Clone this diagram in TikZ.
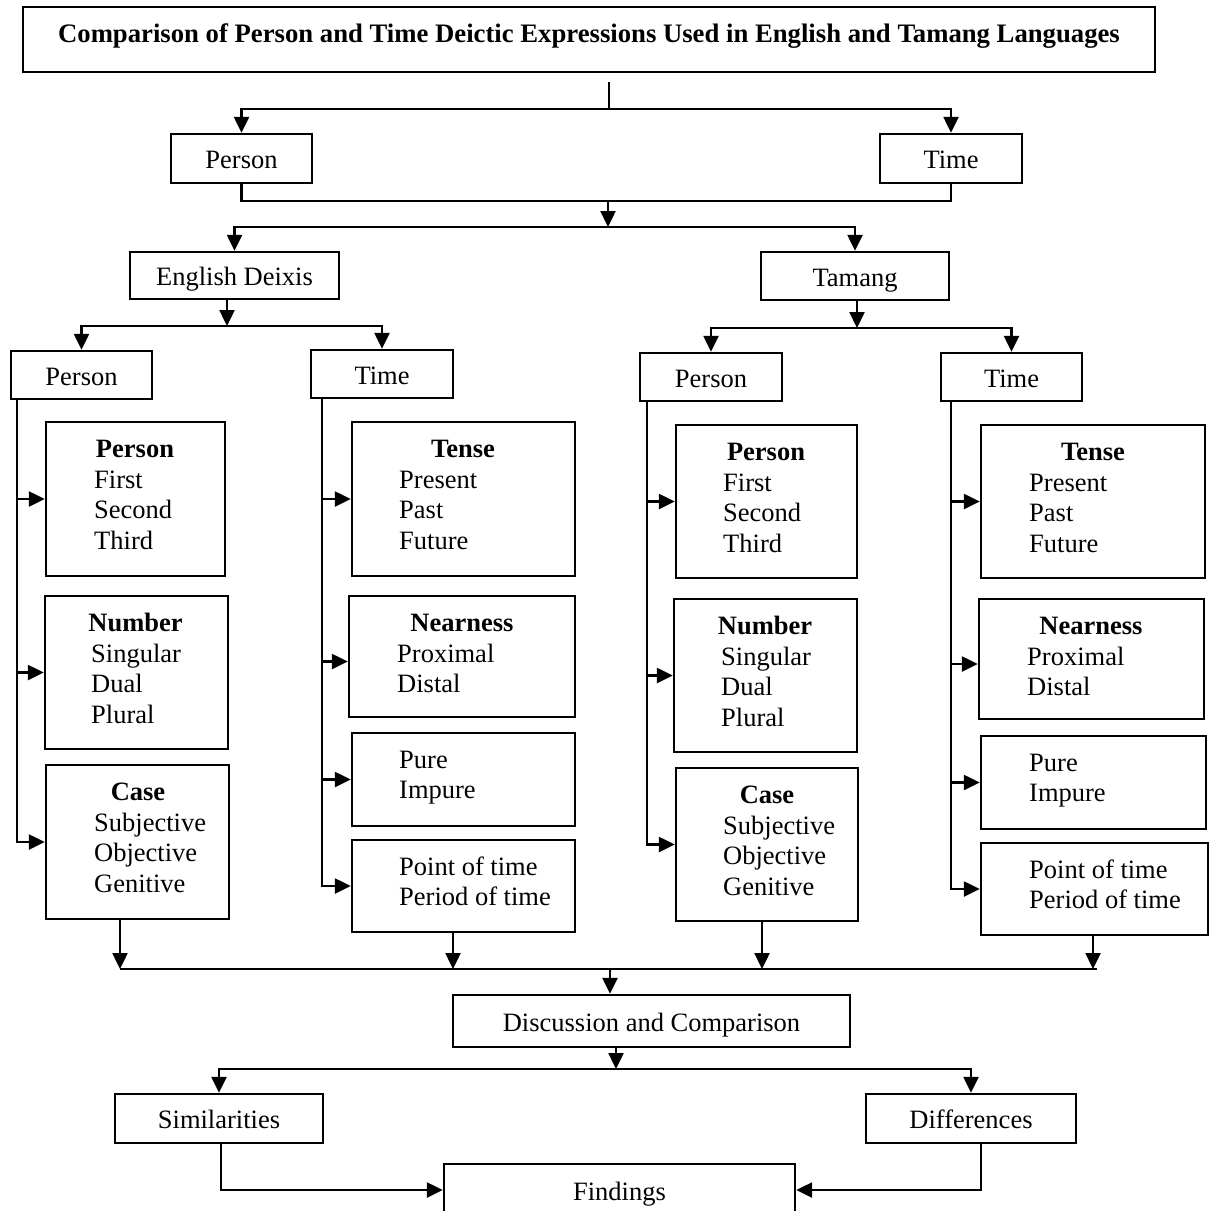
\documentclass[tikz,border=0pt]{standalone}
\usepackage{fontspec}
\setmainfont{Liberation Serif}
\usetikzlibrary{arrows.meta}
\newcommand\fs{\fontsize{26.5}{31}\selectfont}
\newcommand\bx[6]{\node[box, minimum width={#4-#2}, minimum height={#5-#3}] (#1) at ({(#2+#4)/2},{(#3+#5)/2}) {#6};}
\newcommand\hd[4]{\node[hdst] (#1) at (#2,#3) {#4};}
\newcommand\items[4]{\foreach \t [count=\i] in {#4} {\node[itst] (#1-\i) at (#2,{#3+30.5*(\i-1)}) {\t};}}
\begin{document}
\begin{tikzpicture}[x=1pt,y=-1pt,
  box/.style={draw, line width=2.4pt, inner sep=0pt, font=\fs, text height=20pt, text depth=0pt},
  hdst/.style={inner sep=0pt, anchor=base, font=\fs\bfseries},
  itst/.style={inner sep=0pt, anchor=base west, font=\fs},
  ln/.style={line width=2.4pt},
  arr/.style={line width=2.4pt, -{Triangle[length=16pt,width=15pt]}}]
\useasboundingbox (0,0) rectangle (1214,1210);
\fill[white] (0,0) rectangle (1214,1210);
% title
\bx{title}{23}{7}{1155}{72}{}
\node[inner sep=0pt, anchor=base, font=\fontsize{26.7}{30}\selectfont\bfseries] (ttl) at (589,42) {Comparison of Person and Time Deictic Expressions Used in English and Tamang Languages};
% level 1
\bx{per}{171}{134}{312}{183}{Person}
\bx{tim}{880}{134}{1022}{183}{Time}
\coordinate (t0) at (609,82);
\coordinate (t1) at (609,109);
\draw[ln] (t0) -- (t1);
\draw[arr] (t1) -| (per.north);
\draw[arr] (t1) -| (tim.north);
\coordinate (j2) at (608,201);
\coordinate (j3) at (608,227);
\draw[ln] (per.south) |- (j2) -| (tim.south);
\draw[arr] (j2) -- (j3);
% level 2
\bx{eng}{130}{252}{339}{299}{English Deixis}
\bx{tam}{761}{252}{949}{300}{Tamang}
\draw[arr] (j3) -| (eng.north);
\draw[arr] (j3) -| (tam.north);
\coordinate (j4) at (227,326);
\draw[arr] (eng.south -| j4) -- (j4);
\bx{p1}{11}{351}{152}{399}{Person}
\bx{m1}{311}{350}{453}{398}{Time}
\draw[arr] (j4) -| (p1.north);
\draw[arr] (j4) -| (m1.north);
\coordinate (j5) at (857,328);
\draw[arr] (tam.south -| j5) -- (j5);
\bx{p3}{640}{353}{782}{401}{Person}
\bx{m3}{941}{353}{1082}{401}{Time}
\draw[arr] (j5) -| (p3.north);
\draw[arr] (j5) -| (m3.north);
% column 1
\coordinate (v1) at (17,0);
\bx{a1}{46}{422}{225}{576}{}
\hd{a1h}{135}{457}{Person}
\items{a1}{94}{488}{First,Second,Third}
\bx{b1}{45}{596}{228}{749}{}
\hd{b1h}{135.5}{631}{Number}
\items{b1}{91}{662}{Singular,Dual,Plural}
\bx{c1}{46}{765}{229}{919}{}
\hd{c1h}{138}{800}{Case}
\items{c1}{94}{831}{Subjective,Objective,Genitive}
\draw[arr] (p1.south -| v1) |- (c1.west);
\draw[arr] (a1.west -| v1) -- (a1.west);
\draw[arr] (b1.west -| v1) -- (b1.west);
% column 2
\coordinate (v2) at (322,0);
\bx{a2}{352}{422}{575}{576}{}
\hd{a2h}{463}{457}{Tense}
\items{a2}{399}{488}{Present,Past,Future}
\bx{b2}{349}{596}{575}{717}{}
\hd{b2h}{462}{631}{Nearness}
\items{b2}{397}{662}{Proximal,Distal}
\bx{c2}{352}{733}{575}{826}{}
\items{c2}{399}{768}{Pure,Impure}
\bx{d2}{352}{840}{575}{932}{}
\items{d2}{399}{875}{Point of time,Period of time}
\coordinate (b2w) at ([yshift=-5pt]b2.west);
\draw[arr] (m1.south -| v2) |- (d2.west);
\draw[arr] (a2.west -| v2) -- (a2.west);
\draw[arr] (b2w -| v2) -- (b2w);
\draw[arr] (c2.west -| v2) -- (c2.west);
% column 3
\coordinate (v3) at (647,0);
\bx{a3}{676}{425}{857}{578}{}
\hd{a3h}{766}{460}{Person}
\items{a3}{723}{491}{First,Second,Third}
\bx{b3}{674}{599}{857}{752}{}
\hd{b3h}{765}{634}{Number}
\items{b3}{721}{665}{Singular,Dual,Plural}
\bx{c3}{676}{768}{858}{921}{}
\hd{c3h}{767}{803}{Case}
\items{c3}{723}{834}{Subjective,Objective,Genitive}
\draw[arr] (p3.south -| v3) |- (c3.west);
\draw[arr] (a3.west -| v3) -- (a3.west);
\draw[arr] (b3.west -| v3) -- (b3.west);
% column 4
\coordinate (v4) at (951,0);
\bx{a4}{981}{425}{1205}{578}{}
\hd{a4h}{1093}{460}{Tense}
\items{a4}{1029}{491}{Present,Past,Future}
\bx{b4}{979}{599}{1204}{719}{}
\hd{b4h}{1091}{634}{Nearness}
\items{b4}{1027}{665}{Proximal,Distal}
\bx{c4}{981}{736}{1206}{829}{}
\items{c4}{1029}{771}{Pure,Impure}
\bx{d4}{981}{843}{1208}{935}{}
\items{d4}{1029}{878}{Point of time,Period of time}
\coordinate (b4w) at ([yshift=-5pt]b4.west);
\draw[arr] (m3.south -| v4) |- (d4.west);
\draw[arr] (a4.west -| v4) -- (a4.west);
\draw[arr] (b4w -| v4) -- (b4w);
\draw[arr] (c4.west -| v4) -- (c4.west);
% bottom
\coordinate (q1) at (120,969);
\coordinate (q2) at (453,969);
\coordinate (q3) at (762,969);
\coordinate (q4) at (1093,969);
\coordinate (q5) at (1097,969);
\coordinate (q0) at (610,969);
\draw[ln] (q1) -- (q5);
\draw[arr] (c1.south -| q1) -- (q1);
\draw[arr] (d2.south -| q2) -- (q2);
\draw[arr] (c3.south -| q3) -- (q3);
\draw[arr] (d4.south -| q4) -- (q4);
\bx{dis}{453}{995}{850}{1047}{Discussion and Comparison}
\draw[arr] (q0) -- (dis.north -| q0);
\coordinate (r0) at (616,1069);
\draw[arr] (dis.south -| r0) -- (r0);
\bx{sim}{115}{1094}{323}{1143}{Similarities}
\bx{dif}{866}{1094}{1076}{1143}{Differences}
\draw[arr] (r0) -| (sim.north);
\draw[arr] (r0) -| (dif.north);
\bx{fin}{444}{1164}{795}{1216}{Findings}
\coordinate (s1) at (221,0);
\coordinate (s2) at (981,0);
\draw[arr] (sim.south -| s1) |- (fin.west);
\draw[arr] (dif.south -| s2) |- (fin.east);
\end{tikzpicture}
\end{document}
